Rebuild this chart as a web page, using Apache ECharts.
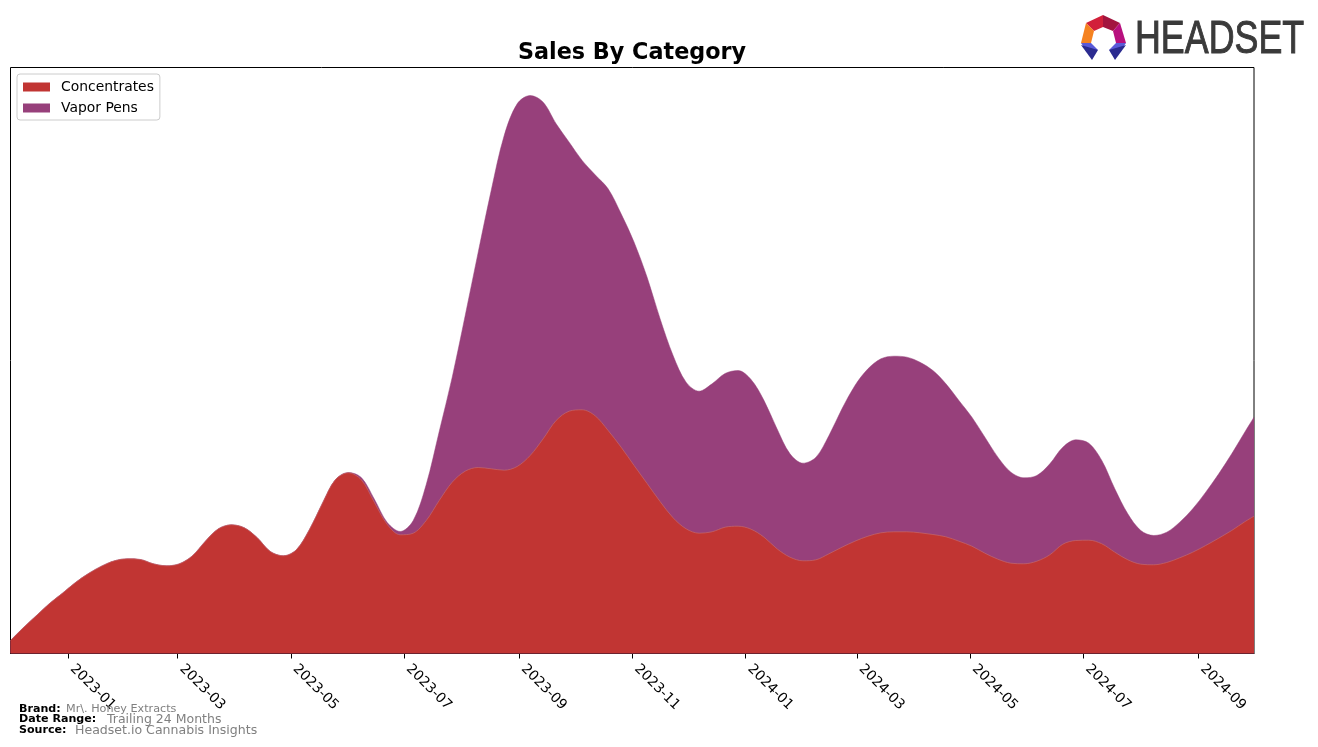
<!DOCTYPE html>
<html><head><meta charset="utf-8">
<style>html,body{margin:0;padding:0;background:#fff}#c{width:1318px;height:747px}</style>
<script src="https://cdn.jsdelivr.net/npm/echarts@6/dist/echarts.min.js"></script>
</head><body><div id="c"></div>
<script>
var title = 'Sales By Category';
var seriesNames = ['Concentrates', 'Vapor Pens'];
var tickLabels = ['2023-01','2023-03','2023-05','2023-07','2023-09','2023-11','2024-01','2024-03','2024-05','2024-07','2024-09'];
var startDate = '2022-12-01', endDate = '2024-10-01';
var concentrates = [13,26,38,50,60.3,71,80,87.3,92.7,94.7,94,89.7,87.7,89.7,97.7,112.3,124.7,128.7,125.7,115.7,102,97.7,103.7,123.7,150,173.7,180.7,173.7,151.3,129,118.7,120.3,133,153,171.3,182.3,186,184.7,183.3,187,198,214.7,233,242.3,243.7,237.7,223,206.3,188,170,152,135.7,124.7,120.3,121.7,126.3,127.3,124.3,116.3,104.7,96.3,92.7,93.7,99.7,106.3,112.3,117.3,120.7,121.7,121.7,120.7,119,116.7,112.3,107.3,100.3,94.3,90.3,89.7,92.3,98.7,109.3,113,113.3,109.7,101.3,93.7,89.3,88.7,91,95.7,101.3,108,115.3,123,131.7,137.3];
var vaporPens = [0,0,0,0,0,0,0,0,0,0,0,0,0,0,0,0,0,0,0,0,0,0,0,0,0,0,0.3,2.3,3.2,2,3.3,12.7,36,69,105,155.7,215.3,278.3,334.7,362.7,360,336.6,296.7,269,249.3,241,241.7,233.4,223.3,206.3,182.7,162.3,146.6,142,148,153.7,155.7,149.7,136.7,120,103.4,97.6,102.6,118.3,138.4,155.7,167.4,174,175.6,174.6,170.6,164,153,140.7,129,116,102,91,86,85.7,91,97,100.7,97,83.3,63.4,46,33.7,29.3,30.3,35.6,43.4,53.3,64.4,76.7,89.6,99];
var footer = [['Brand:','Mr\\. Honey Extracts'],['Date Range:','Trailing 24 Months'],['Source:','Headset.io Cannabis Insights']];

var DAY = 86400000, t0 = Date.parse(startDate + 'T00:00:00Z'), tEnd = Date.parse(endDate + 'T00:00:00Z');
var times = concentrates.map(function(_, i){ return i < concentrates.length - 1 ? t0 + i * 7 * DAY : tEnd; });
var tickTimes = tickLabels.map(function(s){ return Date.parse(s + '-01T00:00:00Z'); });
var F = '"DejaVu Sans"';
function pair(arr){ return arr.map(function(v, i){ return [times[i], v]; }); }
function stacked(a, b){ return a.map(function(v, i){ return [times[i], v + b[i]]; }); }
function fmt(v){ var d = new Date(v); return d.getUTCFullYear() + '-' + String(d.getUTCMonth() + 1).padStart(2, '0'); }
function poly(pts, fill){ return {type:'polygon', shape:{points:pts}, style:{fill:fill}, z:20}; }

var chart = echarts.init(document.getElementById('c'), null, {renderer:'canvas'});
var footG = [];
var fx = [[19,66,11.2],[19,107,12.5],[19,75,12.55]], fy = [709,719.5,730.5];
footer.forEach(function(r, i){
  footG.push({type:'text', x:fx[i][0], y:fy[i], z:30, style:{text:r[0], font:'bold 11.1px '+F, fill:'#000', textVerticalAlign:'middle'}});
  footG.push({type:'text', x:fx[i][1], y:fy[i], z:30, style:{text:r[1], font:fx[i][2]+'px '+F, fill:'#808080', textVerticalAlign:'middle'}});
});
var logo = [
  poly([[1103,15],[1086,23],[1094,31],[1103,27]],'#d2203a'),
  poly([[1103,15],[1120,23],[1113,31],[1103,27]],'#a3153f'),
  poly([[1120,23],[1126,43],[1116,43],[1113,31]],'#b8107e'),
  poly([[1086,23],[1081,43],[1091,43],[1094,31]],'#f58220'),
  poly([[1081,43],[1091,43],[1098,50],[1086,50]],'#5a5ad8'),
  poly([[1081,45],[1098,50],[1092,60]],'#2b2b90'),
  poly([[1126,43],[1116,43],[1109,50],[1121,50]],'#5a5ad8'),
  poly([[1126,45],[1109,50],[1115,60]],'#2b2b90'),
  {type:'text', x:1135, y:40.5, z:20, scaleX:0.762, style:{text:'HEADSET', font:'47px "Liberation Sans"', fill:'#3a3a3a', stroke:'#3a3a3a', lineWidth:1, textVerticalAlign:'middle'}}
];
chart.setOption({
  animation:false,
  backgroundColor:'#fff',
  title:{text:title, left:632, top:42, textAlign:'center', textStyle:{fontFamily:F, fontWeight:'bold', fontSize:22.3, color:'#000'}, padding:0},
  legend:{left:17, top:74, orient:'vertical', padding:[6,6,5,6], itemGap:7, itemWidth:27, itemHeight:9,
    icon:'rect', borderColor:'#ccc', borderWidth:1, borderRadius:3, backgroundColor:'#fff',
    lineStyle:{width:0}, itemStyle:{borderWidth:0},
    textStyle:{fontFamily:F, fontSize:13.9, color:'#000', padding:[0,0,0,6]}, data:seriesNames},
  grid:{left:10.5, right:64, top:67.5, height:586, show:true, borderColor:'#000', borderWidth:1, backgroundColor:'transparent', containLabel:false},
  xAxis:{type:'value', min:t0, max:tEnd, splitLine:{show:false},
    axisLine:{show:true, onZero:false, lineStyle:{color:'#000'}},
    axisTick:{show:true, length:5, lineStyle:{color:'#000'}, customValues:tickTimes},
    minorTick:{show:false},
    axisLabel:{show:true, rotate:-45, fontFamily:F, fontSize:13.9, color:'#000', margin:9, padding:[0,0,4,6], hideOverlap:false, customValues:tickTimes, formatter:function(v){return fmt(v);}}},
  yAxis:{type:'value', min:0, max:586, show:false, splitLine:{show:false}},
  series:[
    {name:seriesNames[1], type:'line', smooth:0.33, showSymbol:false, symbol:'none', lineStyle:{width:0.5,color:'#97407b'}, itemStyle:{color:'#97407b'}, areaStyle:{color:'#97407b', opacity:1}, data:stacked(concentrates, vaporPens), z:2},
    {name:seriesNames[0], type:'line', smooth:0.33, showSymbol:false, symbol:'none', lineStyle:{width:0.6,color:'#c9706f'}, itemStyle:{color:'#c13533'}, areaStyle:{color:'#c13533', opacity:1}, data:pair(concentrates), z:3}
  ],
  graphic:{elements:logo.concat(footG)}
});
</script></body></html>
